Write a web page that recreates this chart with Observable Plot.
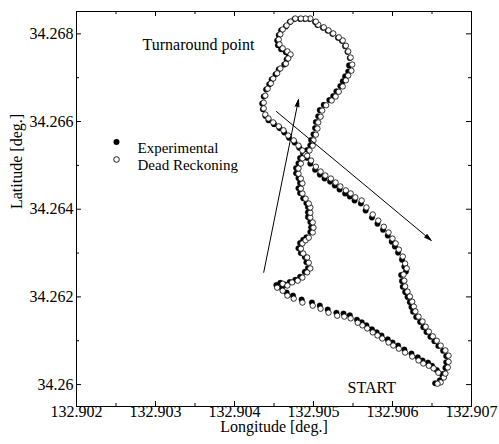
<!DOCTYPE html>
<html><head><meta charset="utf-8">
<script src="https://cdn.jsdelivr.net/npm/d3@7"></script>
<script src="https://cdn.jsdelivr.net/npm/@observablehq/plot@0.6"></script>
<style>body{margin:0;background:#fff}</style>
</head><body><div id="chart"></div>
<script>
// Experimental (filled)
const expLon = [
132.90660,132.90663,132.90656,132.90650,132.90645,132.90638,132.90632,132.90624,132.90615,132.90607,
132.90600,132.90594,132.90586,132.90580,132.90574,132.90567,132.90561,132.90555,132.90546,132.90538,
132.90529,132.90518,132.90508,132.90498,132.90485,132.90474,132.90466,132.90460,132.90453,
132.90458,132.90464,132.90470,132.90477,132.90483,132.90489,132.90493,132.90491,132.90489,132.90484,
132.90481,132.90483,132.90487,132.90491,132.90496,132.90497,132.90496,132.90493,132.90493,132.90493,
132.90491,132.90487,132.90483,132.90481,132.90483,132.90481,132.90478,132.90478,132.90481,132.90483,
132.90487,132.90492,132.90496,132.90497,132.90500,132.90502,132.90503,132.90506,132.90508,132.90513,
132.90520,132.90525,132.90529,132.90534,
132.90537,132.90540,132.90544,132.90545,132.90546,132.90543,132.90540,132.90536,132.90531,132.90524,
132.90518,132.90512,132.90505,132.90502,
132.90495,132.90489,132.90483,132.90476,132.90470,132.90465,132.90459,132.90456,132.90454,132.90455,
132.90459,132.90465,132.90469,132.90466,132.90463,132.90456,132.90452,132.90447,132.90444,132.90440,
132.90437,132.90435,132.90436,132.90439,132.90443,132.90450,132.90457,132.90463,132.90469,132.90476,
132.90482,132.90487,132.90492,
132.90496,132.90502,132.90508,132.90514,132.90521,132.90527,132.90533,132.90540,132.90546,132.90552,
132.90560,132.90566,132.90574,132.90581,132.90588,132.90594,132.90599,132.90603,132.90607,132.90612,
132.90615,132.90617,
132.90611,132.90612,132.90613,132.90616,132.90619,132.90622,132.90624,132.90626,132.90630,132.90635,
132.90639,132.90643,132.90648,132.90653,132.90658,132.90664,132.90668,132.90668,132.90667,132.90664,
132.90654
];
const expLat = [
34.26010,34.26022,34.26033,34.26043,34.26050,34.26055,34.26062,34.26071,34.26080,34.26089,
34.26096,34.26103,34.26112,34.26119,34.26126,34.26135,34.26142,34.26148,34.26158,34.26162,
34.26164,34.26171,34.26180,34.26187,34.26194,34.26203,34.26210,34.26220,34.26227,
34.26232,34.26228,34.26234,34.26239,34.26246,34.26257,34.26266,34.26279,34.26291,34.26300,
34.26311,34.26323,34.26330,34.26336,34.26348,34.26359,34.26371,34.26382,34.26393,34.26405,
34.26414,34.26425,34.26437,34.26448,34.26460,34.26471,34.26482,34.26494,34.26505,34.26517,
34.26526,34.26535,34.26546,34.26558,34.26571,34.26585,34.26599,34.26612,34.26626,34.26638,
34.26649,34.26658,34.26669,34.26681,
34.26692,34.26703,34.26714,34.26728,34.26745,34.26759,34.26772,34.26784,34.26791,34.26800,
34.26807,34.26814,34.26820,34.26827,
34.26834,34.26834,34.26834,34.26834,34.26827,34.26817,34.26808,34.26797,34.26785,34.26774,
34.26765,34.26758,34.26751,34.26742,34.26730,34.26719,34.26708,34.26696,34.26685,34.26673,
34.26657,34.26641,34.26628,34.26613,34.26603,34.26594,34.26585,34.26575,34.26563,34.26552,
34.26540,34.26529,34.26517,
34.26504,34.26490,34.26479,34.26470,34.26463,34.26454,34.26445,34.26436,34.26429,34.26420,
34.26413,34.26397,34.26381,34.26367,34.26353,34.26340,34.26326,34.26315,34.26301,34.26285,
34.26269,34.26258,
34.26250,34.26236,34.26223,34.26211,34.26200,34.26188,34.26177,34.26166,34.26154,34.26143,
34.26131,34.26120,34.26109,34.26099,34.26088,34.26077,34.26065,34.26051,34.26038,34.26024,
34.26003
];
// Dead Reckoning (open)
const drLon = [
132.90661,132.90665,132.90658,132.90652,132.90646,132.90639,132.90633,132.90625,132.90616,132.90608,
132.90601,132.90595,132.90587,132.90581,132.90575,132.90568,132.90562,132.90556,132.90547,132.90539,
132.90530,132.90519,132.90509,132.90499,132.90486,132.90475,132.90467,132.90461,132.90454,
132.90461,132.90467,132.90473,132.90480,132.90486,132.90492,132.90496,132.90494,132.90492,132.90487,
132.90484,132.90486,132.90490,132.90494,132.90499,132.90500,132.90499,132.90496,132.90496,132.90496,
132.90494,132.90490,132.90486,132.90484,132.90486,132.90484,132.90481,132.90481,132.90484,132.90486,
132.90490,132.90495,132.90499,132.90500,132.90503,132.90505,132.90506,132.90509,132.90511,132.90516,
132.90523,132.90528,132.90532,132.90537,
132.90541,132.90544,132.90548,132.90549,132.90547,132.90544,132.90541,132.90537,132.90532,132.90525,
132.90519,132.90513,132.90506,132.90503,
132.90496,132.90490,132.90484,132.90477,132.90471,132.90466,132.90461,132.90458,132.90456,132.90457,
132.90461,132.90467,132.90471,132.90468,132.90465,132.90458,132.90454,132.90449,132.90446,132.90442,
132.90439,132.90437,132.90437,132.90439,132.90443,132.90449,132.90456,132.90462,132.90468,132.90475,
132.90481,132.90486,132.90492,
132.90497,132.90503,132.90509,132.90515,132.90522,132.90528,132.90534,132.90541,132.90547,132.90553,
132.90561,132.90567,132.90575,132.90582,132.90589,132.90595,132.90600,132.90604,132.90608,132.90613,
132.90616,132.90618,
132.90614,132.90615,132.90616,132.90619,132.90622,132.90625,132.90627,132.90629,132.90633,132.90638,
132.90642,132.90646,132.90651,132.90656,132.90661,132.90667,132.90671,132.90671,132.90670,132.90667,
132.90657
];
const drLat = [
34.26005,34.26016,34.26027,34.26037,34.26043,34.26048,34.26055,34.26064,34.26073,34.26082,
34.26089,34.26096,34.26105,34.26112,34.26119,34.26128,34.26135,34.26141,34.26151,34.26155,
34.26157,34.26164,34.26173,34.26180,34.26187,34.26196,34.26203,34.26214,34.26221,
34.26230,34.26226,34.26233,34.26237,34.26244,34.26256,34.26265,34.26278,34.26290,34.26299,
34.26310,34.26322,34.26329,34.26335,34.26347,34.26358,34.26370,34.26381,34.26392,34.26404,
34.26413,34.26424,34.26436,34.26447,34.26459,34.26470,34.26481,34.26493,34.26504,34.26516,
34.26525,34.26534,34.26545,34.26557,34.26570,34.26584,34.26598,34.26611,34.26625,34.26637,
34.26648,34.26657,34.26668,34.26680,
34.26694,34.26705,34.26716,34.26730,34.26746,34.26760,34.26773,34.26785,34.26792,34.26801,
34.26808,34.26815,34.26821,34.26828,
34.26835,34.26835,34.26835,34.26835,34.26828,34.26819,34.26810,34.26799,34.26787,34.26776,
34.26767,34.26760,34.26753,34.26744,34.26732,34.26721,34.26710,34.26698,34.26687,34.26675,
34.26659,34.26643,34.26630,34.26616,34.26607,34.26598,34.26589,34.26580,34.26568,34.26557,
34.26545,34.26534,34.26522,
34.26511,34.26497,34.26486,34.26477,34.26470,34.26461,34.26452,34.26443,34.26436,34.26427,
34.26420,34.26404,34.26388,34.26374,34.26360,34.26347,34.26333,34.26322,34.26308,34.26292,
34.26276,34.26265,
34.26251,34.26237,34.26224,34.26212,34.26201,34.26189,34.26178,34.26167,34.26155,34.26144,
34.26132,34.26121,34.26110,34.26100,34.26089,34.26078,34.26066,34.26052,34.26039,34.26025,
34.26002
];
const xTicks = [132.902, 132.903, 132.904, 132.905, 132.906, 132.907];
const xTickLabels = ["132.902", "132.903", "132.904", "132.905", "132.906", "132.907"];
const xMinor = [132.9025, 132.9035, 132.9045, 132.9055, 132.9065];
const yTicks = [34.260, 34.262, 34.264, 34.266, 34.268];
const yTickLabels = ["34.26", "34.262", "34.264", "34.266", "34.268"];
const yMinor = [34.261, 34.263, 34.265, 34.267];
const seriesNames = ["Experimental", "Dead Reckoning"];
const arrowX1 = [132.90437, 132.90453];
const arrowY1 = [34.26256, 34.26623];
const arrowX2 = [132.90481, 132.90649];
const arrowY2 = [34.26650, 34.26329];
const notes = ["Turnaround point", "START"];

const expPts = expLon.map((x, i) => ({lon: x, lat: expLat[i]}));
const drPts = drLon.map((x, i) => ({lon: x, lat: drLat[i]}));
const arrows = arrowX1.map((x, i) => ({x1: x, y1: arrowY1[i], x2: arrowX2[i], y2: arrowY2[i]}));

const W = 499, H = 444, mL = 76, mR = 28, mT = 11, mB = 38;
const fW = W - mL - mR, fH = H - mT - mB;
const font = "'Liberation Serif', 'Times New Roman', Times, serif";

const chart = Plot.plot({
  width: W, height: H,
  marginLeft: mL, marginRight: mR, marginTop: mT, marginBottom: mB,
  style: {fontFamily: font, fontSize: "16px", background: "white", color: "black"},
  x: {domain: [132.902, 132.907], axis: null},
  y: {domain: [34.2595, 34.26851], axis: null},
  marks: [
    Plot.frame({stroke: "black", strokeWidth: 1}),
    Plot.tickX(xTicks, {x: d => d, insetTop: fH - 5, stroke: "black"}),
    Plot.tickX(xTicks, {x: d => d, insetBottom: fH - 5, stroke: "black"}),
    Plot.tickX(xMinor, {x: d => d, insetTop: fH - 3, stroke: "black"}),
    Plot.tickX(xMinor, {x: d => d, insetBottom: fH - 3, stroke: "black"}),
    Plot.tickY(yTicks, {y: d => d, insetRight: fW - 5, stroke: "black"}),
    Plot.tickY(yTicks, {y: d => d, insetLeft: fW - 5, stroke: "black"}),
    Plot.tickY(yMinor, {y: d => d, insetRight: fW - 3, stroke: "black"}),
    Plot.tickY(yMinor, {y: d => d, insetLeft: fW - 3, stroke: "black"}),
    Plot.text(xTicks, {x: d => d, frameAnchor: "bottom", text: (d, i) => xTickLabels[i], dy: 10, fill: "black", fontSize: 16}),
    Plot.text(yTicks, {y: d => d, frameAnchor: "left", text: (d, i) => yTickLabels[i], textAnchor: "end", dx: -3, fill: "black", fontSize: 16}),
    Plot.text(["Longitude [deg.]"], {frameAnchor: "bottom", text: d => d, dy: 25, fill: "black", fontSize: 16}),
    Plot.text(["Latitude [deg.]"], {frameAnchor: "left", text: d => d, dx: -60, rotate: -90, fill: "black", fontSize: 16}),
    Plot.dot(expPts, {x: "lon", y: "lat", r: 2.8, fill: "black", stroke: "black", strokeWidth: 0.3}),
    Plot.dot(drPts, {x: "lon", y: "lat", r: 2.7, fill: "white", stroke: "black", strokeWidth: 0.8}),
    Plot.arrow(arrows, {x1: "x1", y1: "y1", x2: "x2", y2: "y2", stroke: "black", strokeWidth: 1, headAngle: 30, headLength: 11}),
    Plot.text([notes[0]], {frameAnchor: "top-left", text: d => d, dx: 66, dy: 27, textAnchor: "start", fill: "black", fontSize: 16}),
    Plot.text([notes[1]], {frameAnchor: "top-left", text: d => d, dx: 271, dy: 370, textAnchor: "start", fill: "black", fontSize: 16}),
    Plot.dot([seriesNames[0]], {frameAnchor: "top-left", dx: 40, dy: 130.5, r: 3, fill: "black"}),
    Plot.dot([seriesNames[1]], {frameAnchor: "top-left", dx: 40, dy: 148, r: 2.8, fill: "white", stroke: "black", strokeWidth: 0.9}),
    Plot.text([seriesNames[0]], {frameAnchor: "top-left", text: d => d, dx: 61, dy: 130.5, textAnchor: "start", fill: "black", fontSize: 15}),
    Plot.text([seriesNames[1]], {frameAnchor: "top-left", text: d => d, dx: 61, dy: 148, textAnchor: "start", fill: "black", fontSize: 15})
  ]
});
chart.querySelectorAll('g[aria-label="arrow"] path').forEach(p => p.setAttribute("fill", "black"));
document.getElementById("chart").appendChild(chart);
</script>
</body></html>
